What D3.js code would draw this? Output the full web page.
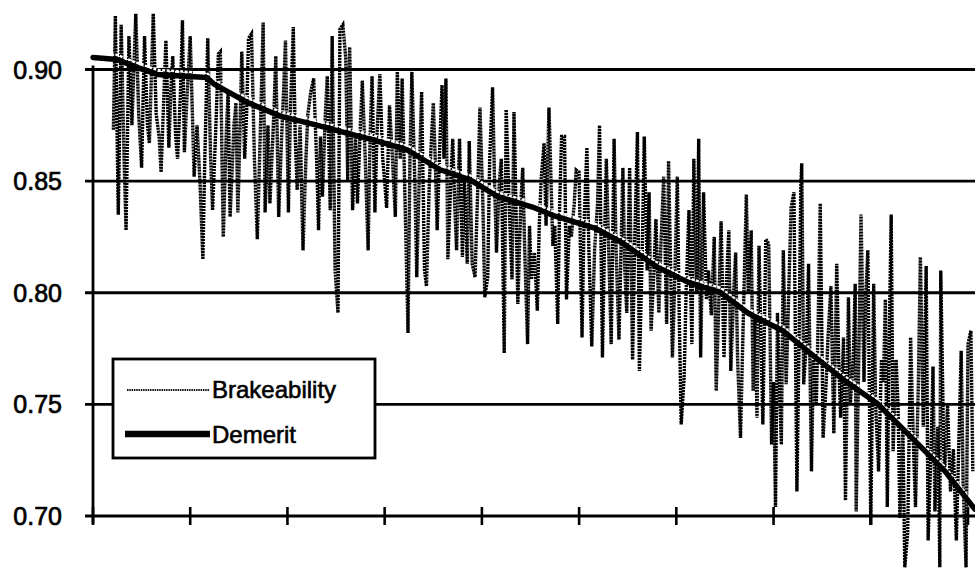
<!DOCTYPE html>
<html>
<head>
<meta charset="utf-8">
<script src="https://cdn.jsdelivr.net/npm/d3@7"></script>
<style>
  body { margin: 0; background: #fff; }
  svg { display: block; overflow: hidden; }
</style>
</head>
<body>
<div id="chart"></div>
<script>
var width = 975;
var height = 568;

// y axis ticks
var yTicks = [0.70, 0.75, 0.80, 0.85, 0.90];
var xTicks = [0, 100, 200, 300, 400, 500, 600, 700, 800, 900];

// Demerit (smooth, decreasing)
var demeritObs = [0, 25, 43, 66, 117, 125, 159, 194, 228, 259, 288, 323, 357, 388, 417, 452, 472, 516, 545, 580, 614, 645, 674, 709, 743, 773, 807, 842, 876, 907];
var demeritVal = [0.9054, 0.9045, 0.9013, 0.8978, 0.8964, 0.8933, 0.8852, 0.8789, 0.8753, 0.8717, 0.8685, 0.8640, 0.8551, 0.8506, 0.8429, 0.8384, 0.8348, 0.8290, 0.8222, 0.8115, 0.8043, 0.8002, 0.7908, 0.7831, 0.7710, 0.7607, 0.7503, 0.7351, 0.7202, 0.7031];

// Brakeability (noisy)
var brakeObs = [21, 23, 26, 29, 32, 34, 37, 40, 44, 47, 50, 53, 56, 58, 62, 65, 68, 70, 73, 75, 78, 80, 82, 85, 87, 90, 92, 94, 97, 100,
  104, 107, 110, 113, 115, 118, 121, 123, 126, 129, 131, 134, 137, 139, 141, 145, 147, 149, 151, 153, 156, 158, 160, 163, 166, 169, 172, 175, 177, 180,
  182, 186, 188, 191, 194, 196, 198, 201, 203, 206, 208, 210, 213, 216, 219, 221, 224, 227, 230, 232, 234, 236, 239, 241, 244, 246, 249, 252, 254, 257,
  260, 262, 264, 267, 270, 272, 275, 277, 280, 283, 285, 287, 290, 292, 295, 298, 300, 302, 305, 308, 311, 313, 316, 318, 321, 324, 326, 328, 331, 333,
  336, 338, 341, 343, 346, 350, 352, 354, 357, 359, 361, 363, 365, 368, 370, 372, 374, 377, 380, 382, 385, 387, 390, 393, 396, 398, 401, 403, 406, 408,
  411, 413, 415, 418, 420, 423, 425, 428, 431, 433, 435, 437, 440, 442, 444, 447, 449, 451, 454, 457, 459, 461, 464, 466, 469, 473, 475, 478, 480, 482,
  485, 487, 490, 492, 495, 497, 500, 503, 505, 508, 510, 513, 516, 519, 521, 524, 526, 528, 531, 533, 536, 538, 541, 545, 547, 549, 552, 555, 557, 560,
  562, 565, 567, 570, 572, 574, 577, 579, 582, 584, 587, 590, 592, 596, 598, 601, 603, 605, 608, 610, 613, 616, 618, 621, 623, 625, 628, 631, 633, 636,
  639, 641, 644, 646, 649, 651, 654, 656, 659, 661, 663, 666, 669, 672, 674, 677, 679, 681, 683, 685, 687, 689, 692, 695, 698, 700, 702, 704, 706, 708,
  710, 713, 715, 718, 721, 724, 726, 728, 729, 731, 734, 736, 739, 741, 744, 746, 748, 751, 754, 756, 759, 762, 765, 767, 769, 772, 774, 777, 779, 782,
  784, 785, 788, 790, 793, 795, 797, 800, 803, 805, 808, 811, 813, 815, 817, 819, 821, 823, 826, 828, 830, 833, 835, 838, 841, 844, 846, 849, 851, 854,
  857, 859, 862, 864, 866, 869, 871, 872, 875, 876, 879, 882, 885, 888, 891, 893, 895, 898, 900, 903, 905];
var brakeVal = [0.873, 0.924, 0.835, 0.920, 0.860, 0.828, 0.915, 0.875, 0.925, 0.880, 0.856, 0.915, 0.875, 0.867, 0.925, 0.880, 0.870, 0.854, 0.890, 0.913, 0.865, 0.890, 0.906, 0.870, 0.860, 0.890, 0.922, 0.863, 0.890, 0.915,
  0.852, 0.875, 0.850, 0.815, 0.860, 0.914, 0.860, 0.837, 0.870, 0.907, 0.908, 0.825, 0.870, 0.890, 0.834, 0.875, 0.885, 0.836, 0.870, 0.908, 0.860, 0.880, 0.914, 0.916, 0.860, 0.824, 0.870, 0.921, 0.836, 0.875,
  0.840, 0.880, 0.906, 0.834, 0.870, 0.890, 0.913, 0.836, 0.880, 0.919, 0.870, 0.846, 0.875, 0.819, 0.860, 0.880, 0.890, 0.896, 0.860, 0.828, 0.870, 0.843, 0.880, 0.897, 0.837, 0.915, 0.810, 0.791, 0.918, 0.920,
  0.905, 0.850, 0.910, 0.837, 0.870, 0.840, 0.875, 0.895, 0.860, 0.819, 0.870, 0.897, 0.836, 0.870, 0.898, 0.860, 0.850, 0.838, 0.884, 0.860, 0.834, 0.899, 0.860, 0.896, 0.840, 0.782, 0.860, 0.899, 0.850, 0.807,
  0.860, 0.890, 0.810, 0.803, 0.850, 0.885, 0.860, 0.828, 0.870, 0.893, 0.860, 0.896, 0.815, 0.850, 0.869, 0.840, 0.819, 0.869, 0.816, 0.850, 0.813, 0.868, 0.813, 0.807, 0.850, 0.883, 0.840, 0.798, 0.807, 0.860,
  0.892, 0.850, 0.818, 0.850, 0.860, 0.773, 0.882, 0.840, 0.806, 0.881, 0.840, 0.795, 0.840, 0.856, 0.820, 0.777, 0.830, 0.806, 0.818, 0.792, 0.830, 0.851, 0.867, 0.830, 0.883, 0.821, 0.830, 0.786, 0.840, 0.870,
  0.870, 0.797, 0.830, 0.825, 0.840, 0.855, 0.854, 0.780, 0.830, 0.865, 0.820, 0.776, 0.820, 0.840, 0.875, 0.771, 0.820, 0.860, 0.810, 0.777, 0.869, 0.820, 0.779, 0.856, 0.810, 0.791, 0.856, 0.770, 0.820, 0.872,
  0.765, 0.820, 0.870, 0.810, 0.845, 0.783, 0.810, 0.833, 0.791, 0.820, 0.852, 0.786, 0.859, 0.771, 0.800, 0.852, 0.790, 0.741, 0.762, 0.800, 0.837, 0.777, 0.860, 0.800, 0.869, 0.771, 0.845, 0.797, 0.810, 0.790,
  0.825, 0.756, 0.800, 0.832, 0.771, 0.800, 0.828, 0.765, 0.800, 0.818, 0.771, 0.735, 0.790, 0.844, 0.800, 0.828, 0.756, 0.790, 0.744, 0.821, 0.780, 0.741, 0.824, 0.822, 0.732, 0.760, 0.704, 0.791, 0.760, 0.732,
  0.819, 0.759, 0.790, 0.838, 0.845, 0.711, 0.770, 0.847, 0.858, 0.759, 0.780, 0.813, 0.720, 0.770, 0.750, 0.790, 0.840, 0.735, 0.759, 0.780, 0.803, 0.737, 0.813, 0.770, 0.744, 0.780, 0.707, 0.798, 0.750, 0.770,
  0.804, 0.702, 0.780, 0.835, 0.760, 0.800, 0.819, 0.696, 0.804, 0.750, 0.720, 0.770, 0.760, 0.797, 0.704, 0.780, 0.835, 0.729, 0.770, 0.750, 0.699, 0.740, 0.677, 0.693, 0.780, 0.730, 0.704, 0.760, 0.816, 0.740,
  0.812, 0.689, 0.730, 0.767, 0.702, 0.740, 0.677, 0.810, 0.730, 0.720, 0.750, 0.711, 0.730, 0.689, 0.740, 0.774, 0.714, 0.677, 0.777, 0.783, 0.720];

var legendNames = ["Brakeability", "Demerit"];

var brake = brakeObs.map(function(d, i) { return { obs: d, val: brakeVal[i] }; });
var demerit = demeritObs.map(function(d, i) { return { obs: d, val: demeritVal[i] }; });

var xScale = d3.scaleLinear().domain([0, 900]).range([93, 968]);
var yScale = d3.scaleLinear().domain([0.70, 0.90]).range([516, 69.5]);

var font = "'Liberation Sans', Arial, sans-serif";

var svg = d3.select("#chart")
  .append("svg")
  .attr("width", width)
  .attr("height", height);

// gridlines
svg.append("g")
  .selectAll("line")
  .data(yTicks)
  .enter()
  .append("line")
  .attr("x1", 85)
  .attr("x2", width + 5)
  .attr("y1", d => yScale(d))
  .attr("y2", d => yScale(d))
  .attr("stroke", "#000")
  .attr("stroke-width", 2.8);

// y labels
svg.append("g")
  .selectAll("text")
  .data(yTicks)
  .enter()
  .append("text")
  .attr("x", 62)
  .attr("y", d => yScale(d))
  .attr("dy", "0.36em")
  .attr("text-anchor", "end")
  .attr("font-family", font)
  .attr("font-size", "25px")
  .attr("fill", "#000")
  .attr("stroke", "#000")
  .attr("stroke-width", 0.7)
  .text(d => d.toFixed(2));

// left axis line
svg.append("line")
  .attr("x1", xScale(0))
  .attr("x2", xScale(0))
  .attr("y1", yScale(0.90) - 4)
  .attr("y2", yScale(0.70) + 8)
  .attr("stroke", "#000")
  .attr("stroke-width", 2.8);

// bottom ticks
svg.append("g")
  .selectAll("line")
  .data(xTicks)
  .enter()
  .append("line")
  .attr("x1", d => xScale(d))
  .attr("x2", d => xScale(d))
  .attr("y1", yScale(0.70) - 9)
  .attr("y2", yScale(0.70) + 9)
  .attr("stroke", "#000")
  .attr("stroke-width", 2.6);

var line = d3.line()
  .x(d => xScale(d.obs))
  .y(d => yScale(d.val));

// brakeability
svg.append("path")
  .datum(brake)
  .attr("d", line)
  .attr("fill", "none")
  .attr("stroke", "#000")
  .attr("stroke-width", 3.4)
  .attr("stroke-dasharray", "2.2,0.8")
  .attr("stroke-linejoin", "miter");

// demerit with light halo above it
svg.append("path")
  .datum(demerit)
  .attr("d", line)
  .attr("transform", "translate(0,-4.5)")
  .attr("fill", "none")
  .attr("stroke", "#fff")
  .attr("stroke-width", 2.4)
  .attr("stroke-dasharray", "3,1.5");

svg.append("path")
  .datum(demerit)
  .attr("d", line)
  .attr("fill", "none")
  .attr("stroke", "#000")
  .attr("stroke-width", 5.5)
  .attr("stroke-linecap", "round")
  .attr("stroke-linejoin", "round");

// legend
var legend = svg.append("g");

legend.append("rect")
  .attr("x", 113)
  .attr("y", 359)
  .attr("width", 262)
  .attr("height", 99)
  .attr("fill", "#fff")
  .attr("stroke", "#000")
  .attr("stroke-width", 2.8);

legend.append("line")
  .attr("x1", 127).attr("x2", 209)
  .attr("y1", 390).attr("y2", 390)
  .attr("stroke", "#111")
  .attr("stroke-width", 2)
  .attr("stroke-dasharray", "1.5,0.8");

legend.append("line")
  .attr("x1", 125).attr("x2", 210)
  .attr("y1", 434).attr("y2", 434)
  .attr("stroke", "#000")
  .attr("stroke-width", 6.5);

legend.selectAll("text")
  .data(legendNames)
  .enter()
  .append("text")
  .attr("x", 212)
  .attr("y", (d, i) => 389 + i * 45)
  .attr("dy", "0.36em")
  .attr("font-family", font)
  .attr("font-size", "24px")
  .attr("fill", "#000")
  .attr("stroke", "#000")
  .attr("stroke-width", 0.6)
  .text(d => d);
</script>
</body>
</html>
